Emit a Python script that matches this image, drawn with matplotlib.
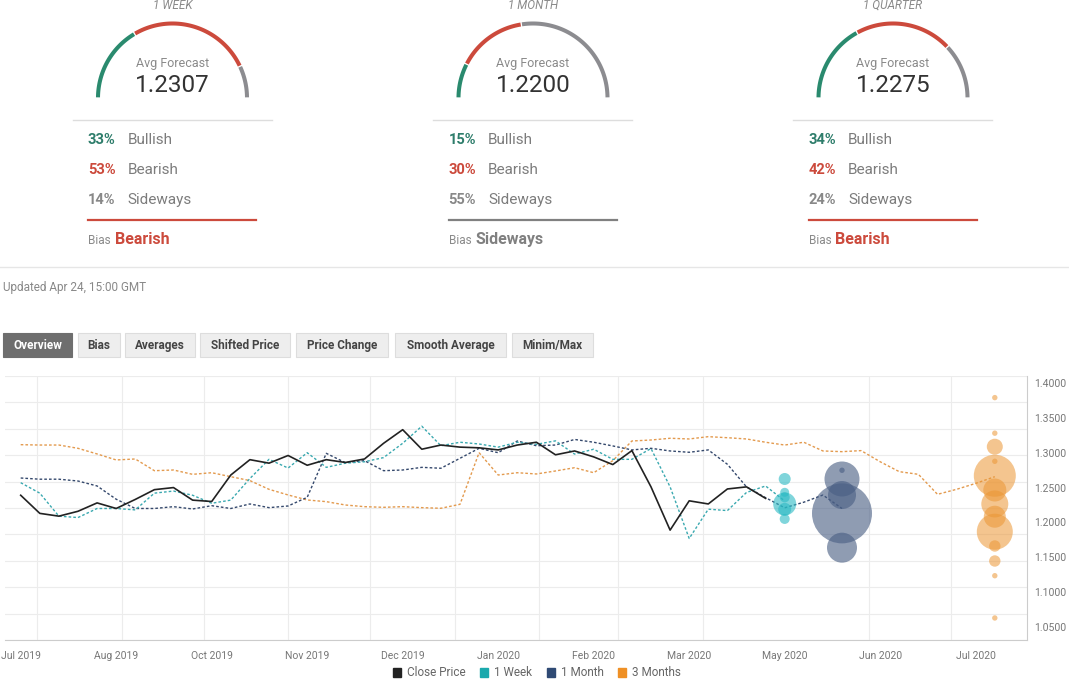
import matplotlib
matplotlib.use("Agg")
import matplotlib.pyplot as plt
import matplotlib.dates as mdates
from matplotlib.patches import Rectangle, Patch
from matplotlib.ticker import FormatStrFormatter
import numpy as np
import pandas as pd

plt.rcParams['font.family'] = ['Roboto', 'DejaVu Sans']

# poll summary
horizons = ["1 WEEK", "1 MONTH", "1 QUARTER"]
avg_forecast = ["1.2307", "1.2200", "1.2275"]
bullish = [33, 15, 34]
bearish = [53, 30, 42]
sideways = [14, 55, 24]
bias = ["Bearish", "Sideways", "Bearish"]
updated = "Updated Apr 24, 15:00 GMT"
tabs = ["Overview", "Bias", "Averages", "Shifted Price", "Price Change", "Smooth Average", "Minim/Max"]

# weekly series, first week 2019-07-26
close = [1.239, 1.213, 1.209, 1.216, 1.228, 1.220, 1.233, 1.247, 1.250, 1.232,
         1.230, 1.268, 1.290, 1.285, 1.296, 1.282, 1.290, 1.286, 1.291, 1.3135,
         1.333, 1.305, 1.311, 1.308, 1.307, 1.304, 1.311, 1.315, 1.297, 1.3025,
         1.294, 1.283, 1.303, 1.251, 1.189, 1.231, 1.2265, 1.248, 1.251, 1.2345]
week1 = [1.257, 1.242, 1.209, 1.207, 1.220, 1.220, 1.218, 1.242, 1.245, 1.239,
         1.2275, 1.232, 1.263, 1.2905, 1.278, 1.300, 1.279, 1.285, 1.287, 1.293,
         1.3135, 1.338, 1.310, 1.315, 1.3125, 1.308, 1.315, 1.312, 1.317, 1.298,
         1.305, 1.2905, 1.2905, 1.306, 1.251, 1.177, 1.219, 1.217, 1.243, 1.2523,
         1.2307]
month1 = [1.2637, 1.262, 1.262, 1.2594, 1.2523, 1.2333, 1.220, 1.220, 1.2226, 1.2193,
          1.224, 1.220, 1.2265, 1.2212, 1.2236, 1.236, 1.2991, 1.2857, 1.2886, 1.2742,
          1.2752, 1.279, 1.2777, 1.292, 1.3063, 1.300, 1.3168, 1.310, 1.311, 1.319,
          1.315, 1.3097, 1.304, 1.3063, 1.3025, 1.3006, 1.304, 1.2834, 1.251, 1.2355,
          1.221, 1.229, 1.2393, 1.220]
month3 = [1.3115, 1.311, 1.311, 1.3063, 1.2982, 1.2896, 1.291, 1.2742, 1.2752, 1.269,
          1.2713, 1.2656, 1.260, 1.2475, 1.2394, 1.2322, 1.2298, 1.225, 1.2226, 1.2217,
          1.2226, 1.2212, 1.2203, 1.226, 1.300, 1.268, 1.2713, 1.2695, 1.2738, 1.2785,
          1.2713, 1.2886, 1.3168, 1.3182, 1.3207, 1.3197, 1.323, 1.3215, 1.3197, 1.315,
          1.311, 1.315, 1.3025, 1.3015, 1.303, 1.287, 1.2728, 1.269, 1.2403, 1.2475,
          1.256, 1.2656]

# forecast bubbles (value, radius in px)
wk_vals = [1.2623, 1.2432, 1.236, 1.2265, 1.2188, 1.205]
wk_size = [6, 4.5, 5, 11.5, 6.5, 5]
mo_vals = [1.2748, 1.2623, 1.2393, 1.213, 1.1638]
mo_size = [2.7, 17.5, 14, 30, 15]
q_vals = [1.379, 1.328, 1.3086, 1.2877, 1.267, 1.2465, 1.2265, 1.2082, 1.1867,
          1.1662, 1.1447, 1.1236, 1.063]
q_size = [2.7, 2.7, 8, 2.7, 21, 11.5, 13.5, 11, 18, 5.7, 5.7, 2.7, 2.7]

GREEN, RED, GREY = '#2a8a6e', '#cc4a3c', '#8c8c90'
C_CLOSE, C_WK, C_MO, C_Q = '#222222', '#2bbac4', '#34486c', '#eb9634'

dates = pd.date_range("2019-07-26", periods=len(month3), freq="7D")

fig = plt.figure(figsize=(10.69, 6.8), dpi=100)

# header drawn in pixel coordinates
hx = fig.add_axes([0, 0, 1, 1])
hx.set_xlim(0, 1069)
hx.set_ylim(680, 0)
hx.axis('off')

gauge_x = [172.5, 533, 893]
CY, R = 98, 74.5
for i, cx in enumerate(gauge_x):
    start = 180.0
    for pct, col in [(bullish[i], GREEN), (bearish[i], RED), (sideways[i], GREY)]:
        end = start - pct * 1.8
        phi = np.radians(np.linspace(start - 0.5, end + 0.5, 80))
        hx.plot(cx + R * np.cos(phi), CY - R * np.sin(phi), color=col, lw=2.9,
                solid_capstyle='butt')
        start = end
    hx.text(cx, 5.5, horizons[i], ha='center', va='center', fontsize=8.5,
            style='italic', color='#8a8a8a')
    hx.text(cx, 64, "Avg Forecast", ha='center', va='center', fontsize=9, color='#8a8a8a')
    hx.text(cx, 86, avg_forecast[i], ha='center', va='center', fontsize=17.5, color='#333333')
    hx.plot([cx - 100, cx + 99], [120, 120], color='#dddddd', lw=1)
    rows = [(bullish[i], "Bullish", '#2e7d6b'), (bearish[i], "Bearish", RED),
            (sideways[i], "Sideways", '#888888')]
    for j, (p, lab, col) in enumerate(rows):
        y = 140 + 30 * j
        hx.text(cx - 84.5, y, f"{p}%", ha='left', va='center', fontsize=10.5,
                fontweight='bold', color=col)
        hx.text(cx - 45, y, lab, ha='left', va='center', fontsize=11, color='#7c7c7c')
    bcol = RED if bias[i] == "Bearish" else '#808080'
    hx.plot([cx - 84.5, cx + 83.5], [219.5, 219.5], color=bcol, lw=1.6)
    hx.text(cx - 84.5, 241, "Bias", ha='left', va='center', fontsize=8.5, color='#8a8a8a')
    hx.text(cx - 57.5, 239.5, bias[i], ha='left', va='center', fontsize=11.5,
            fontweight='bold', color=bcol)

hx.plot([0, 1069], [267, 267], color='#e6e6e6', lw=1)
hx.text(3, 287, updated, ha='left', va='center', fontsize=8.5, color='#888888')

tab_x = [(3, 72), (78, 120), (125, 195), (200, 290), (296, 388), (395, 506), (512, 593)]
for name, (x0, x1) in zip(tabs, tab_x):
    active = name == "Overview"
    hx.add_patch(Rectangle((x0, 333), x1 - x0, 24,
                           facecolor='#6e6e6e' if active else '#eeeeee',
                           edgecolor='#6e6e6e' if active else '#dddddd', lw=0.8))
    hx.text((x0 + x1) / 2, 345.5, name, ha='center', va='center', fontsize=8.5,
            fontweight='bold', color='white' if active else '#444444')

# main chart
ax = fig.add_axes([5 / 1069, 40 / 680, 1022 / 1069, 264 / 680])
ax.patch.set_alpha(0)
ylo, yhi = 1.0314, 1.4100
ax.set_ylim(ylo, yhi)
ax.set_xlim(dates[0] - pd.Timedelta(days=5.75), dates[0] + pd.Timedelta(days=368.8))

dash = (0, (1.9, 1.5))
ax.plot(dates[:len(month3)], month3, color='#e39a4e', lw=1.0, linestyle=dash, zorder=3)
ax.plot(dates[:len(month1)], month1, color=C_MO, lw=1.0, linestyle=dash, zorder=3)
ax.plot(dates[:len(week1)], week1, color='#3aa9b0', lw=1.0, linestyle=dash, zorder=3)
ax.plot(dates[:len(close)], close, color=C_CLOSE, lw=1.2, zorder=4)

def px_to_s(r):
    return (2 * np.asarray(r) * 0.72) ** 2

ax.scatter([dates[40]] * len(wk_vals), wk_vals, s=px_to_s(wk_size), color=C_WK,
           alpha=0.6, lw=0, zorder=5)
ax.scatter([dates[43]] * len(mo_vals), mo_vals, s=px_to_s(mo_size), color='#4a5f84',
           alpha=0.62, lw=0, zorder=5)
ax.scatter([dates[51]] * len(q_vals), q_vals, s=px_to_s(q_size), color=C_Q,
           alpha=0.55, lw=0, zorder=5)

ax.set_xticks(dates[0:51:5])
ax.xaxis.set_major_formatter(mdates.DateFormatter('%b %Y'))
ax.xaxis.set_minor_locator(mdates.MonthLocator())
ax.yaxis.tick_right()
ax.set_yticks(np.arange(1.05, 1.4001, 0.05))
ax.yaxis.set_major_formatter(FormatStrFormatter('%.4f'))
ax.set_yticks(np.linspace(ylo, yhi, 11), minor=True)
ax.grid(False, which='major')
ax.grid(True, which='minor', color='#ececec', lw=0.8)
ax.tick_params(which='both', length=0, labelsize=7.5, labelcolor='#777777')
ax.tick_params(axis='x', pad=8)
ax.tick_params(axis='y', pad=5)
for s in ['left', 'top']:
    ax.spines[s].set_visible(False)
for s in ['bottom', 'right']:
    ax.spines[s].set_color('#cccccc')

handles = [Patch(color=C_CLOSE), Patch(color='#1aa9ad'), Patch(color='#2f4a74'),
           Patch(color='#ef9025')]
fig.legend(handles, ["Close Price", "1 Week", "1 Month", "3 Months"], loc='center',
           bbox_to_anchor=(537 / 1069, 7 / 680), ncol=4, frameon=False, fontsize=8.5,
           labelcolor='#666666', handlelength=0.7, handleheight=0.9, handletextpad=0.5,
           columnspacing=1.2)

fig.savefig("out.png", dpi=100)
